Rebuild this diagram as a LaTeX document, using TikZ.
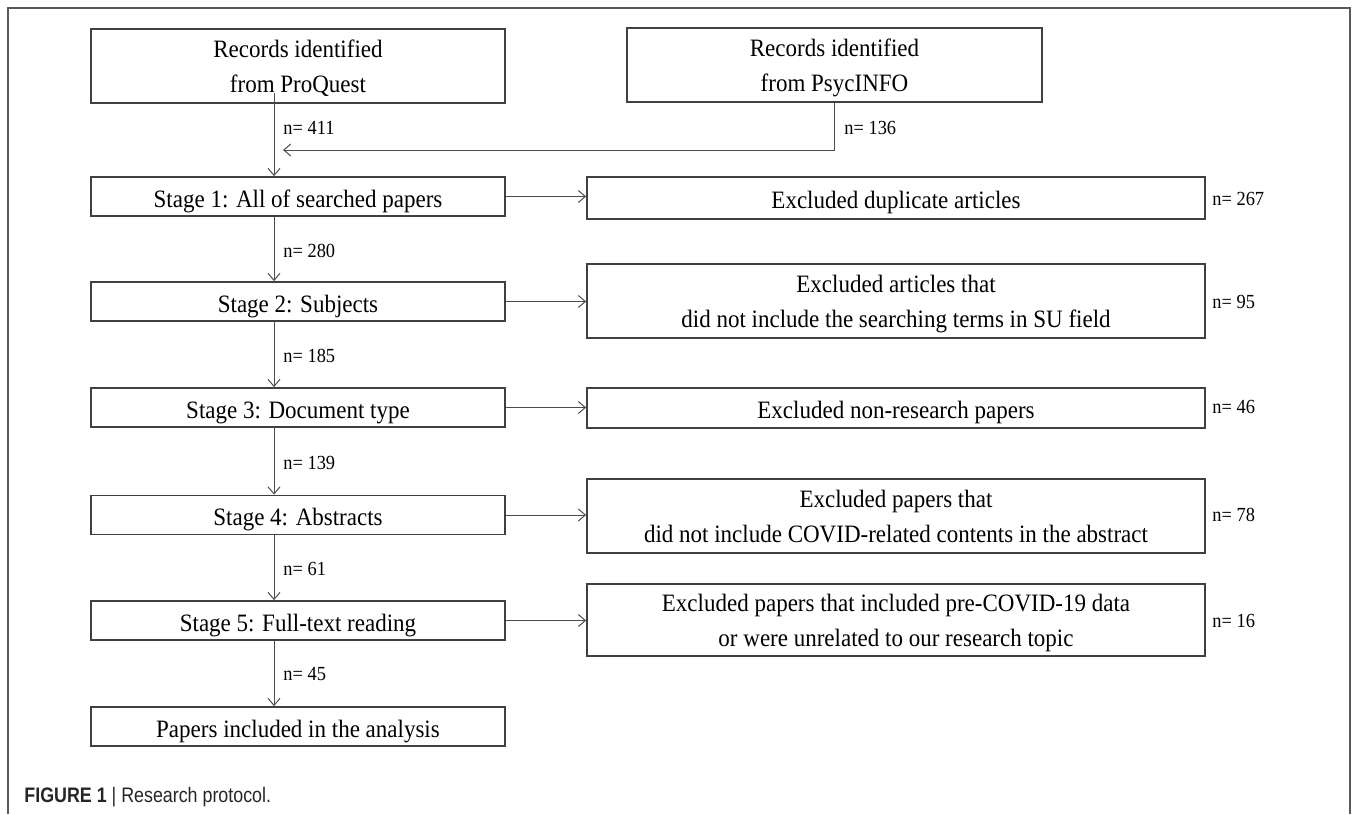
\documentclass[tikz,border=0pt]{standalone}
\usepackage{fontspec}
\setmainfont[FakeStretch=0.92]{Liberation Serif}
\newfontfamily\capfont[FakeStretch=0.85]{Liberation Sans}
\usepackage{tikz}
\usetikzlibrary{arrows.meta}
\usetikzlibrary{calc}

\begin{document}
\begin{tikzpicture}[x=0.5pt,y=-0.5pt,
	box/.style={draw=black!75,line width=0.9pt,inner sep=0pt,align=center,font=\fontsize{12.5}{17.5}\selectfont,minimum height=19.5pt},
	stagebox/.style={box,minimum width=207pt,text height=10.5pt,text depth=0pt},
	exclbox/.style={box,minimum width=309pt},
	oneline/.style={text height=10.5pt,text depth=0pt},
	twoline/.style={text height=26.5pt,text depth=0pt},
	flow/.style={draw=black!70,line width=0.5pt,-{Straight Barb[length=3.5pt,width=6pt]}},
	count/.style={anchor=west,inner sep=0pt,font=\fontsize{10}{12}\selectfont}]
	
	\useasboundingbox (0,0) rectangle (1358,814);
	
	\draw [black!65,line width=0.8pt] (8,814) -- (8,8) -- (1350,8) -- (1350,814);
	
	\node [box,twoline,minimum width=207pt,minimum height=37pt] (proquest) at (298,66) {Records identified\\from ProQuest};
	
	\node [box,twoline,minimum width=207.5pt,minimum height=37pt] (psycinfo) at (834.5,65) {Records identified\\from PsycINFO};
	
	\coordinate (spine) at (274,93);
	
	\coordinate (merge) at (283,150);
	
	\node [count] (n411) at (283,128) {n= 411};
	
	\node [count] (n136) at (844,128) {n= 136};
	
	\draw [flow] (psycinfo.south) -- (psycinfo.south |- merge) -- (merge);
	
	\node [stagebox] (s1) at (298,196.5) {Stage 1: All of searched papers};
	
	\node [exclbox,oneline,minimum height=21pt] (x1) at (896,198) {Excluded duplicate articles};
	
	\node [count] (n267) at (1212,199) {n= 267};
	
	\draw [flow] (spine) -- (s1.north -| spine);
	
	\draw [flow] (s1.east) -- (s1.east -| x1.west);
	
	\node [count] (n280) at (283,251) {n= 280};
	
	\node [stagebox] (s2) at (298,301.5) {Stage 2: Subjects};
	
	\node [exclbox,twoline,minimum height=37pt] (x2) at (896,301) {Excluded articles that\\did not include the searching terms in SU field};
	
	\node [count] (n95) at (1212,302) {n= 95};
	
	\draw [flow] (s1.south -| spine) -- (s2.north -| spine);
	
	\draw [flow] (s2.east) -- (s2.east -| x2.west);
	
	\node [count] (n185) at (283,356) {n= 185};
	
	\node [stagebox] (s3) at (298,407.5) {Stage 3: Document type};
	
	\node [exclbox,oneline,minimum height=20pt] (x3) at (896,408) {Excluded non-research papers};
	
	\node [count] (n46) at (1212,407) {n= 46};
	
	\draw [flow] (s2.south -| spine) -- (s3.north -| spine);
	
	\draw [flow] (s3.east) -- (s3.east -| x3.west);
	
	\node [count] (n139) at (283,463) {n= 139};
	
	\node [stagebox] (s4) at (298,515) {Stage 4: Abstracts};
	
	\node [exclbox,twoline,minimum height=37pt] (x4) at (896,516) {Excluded papers that\\did not include COVID-related contents in the abstract};
	
	\node [count] (n78) at (1212,515) {n= 78};
	
	\draw [flow] (s3.south -| spine) -- (s4.north -| spine);
	
	\draw [flow] (s4.east) -- (s4.east -| x4.west);
	
	\node [count] (n61) at (283,569) {n= 61};
	
	\node [stagebox] (s5) at (298,620.5) {Stage 5: Full-text reading};
	
	\node [exclbox,twoline,minimum height=36pt] (x5) at (896,620) {Excluded papers that included pre-COVID-19 data\\or were unrelated to our research topic};
	
	\node [count] (n16) at (1212,621) {n= 16};
	
	\draw [flow] (s4.south -| spine) -- (s5.north -| spine);
	
	\draw [flow] (s5.east) -- (s5.east -| x5.west);
	
	\node [count] (n45) at (283,674) {n= 45};
	
	\node [stagebox] (papers) at (298,726.5) {Papers included in the analysis};
	
	\draw [flow] (s5.south -| spine) -- (papers.north -| spine);
	
	\node [anchor=west,inner sep=0pt,font=\capfont\fontsize{10.5}{12}\selectfont,text=black!85] (caption) at (24,797) {\textbf{FIGURE 1} | Research protocol.};
	
\end{tikzpicture}
\end{document}
